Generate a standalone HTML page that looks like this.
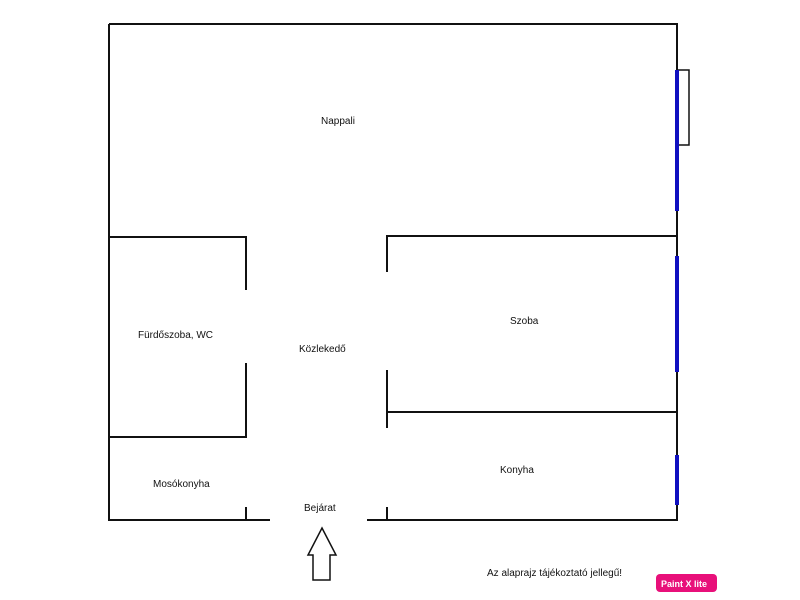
<!DOCTYPE html>
<html><head><style>body{margin:0;background:#fff}svg{display:block}text{font-family:"Liberation Sans",sans-serif;font-size:10px;fill:#111}</style></head>
<body><svg width="800" height="600" viewBox="0 0 800 600">
<g stroke="#111" stroke-width="2" fill="none">
<path d="M109 24H677V520H367M270 520H109V24"/>
<path d="M109 237H246V290M246 363V437H109M246 507V520"/>
<path d="M677 236H387V272M387 370V428M387 412H677M387 507V520"/>
<path d="M677 70H689V145H677" stroke-width="1.5"/>
<path d="M322 528L336 555H330V580H313V555H308Z" stroke-width="1.5"/>
</g>
<g stroke="#1010c0" stroke-width="4">
<path d="M677 70V211M677 256V372M677 455V505"/>
</g>
<text x="321" y="124">Nappali</text>
<text x="138" y="338">Fürdőszoba, WC</text>
<text x="299" y="352">Közlekedő</text>
<text x="510" y="324">Szoba</text>
<text x="500" y="473">Konyha</text>
<text x="153" y="487">Mosókonyha</text>
<text x="304" y="511">Bejárat</text>
<text x="487" y="576">Az alaprajz tájékoztató jellegű!</text>
<rect x="656" y="574" width="61" height="18" rx="4" fill="#e8107a"/>
<text x="661" y="587" style="fill:#fff;font-weight:bold;font-size:9px">Paint X lite</text>
</svg></body></html>
